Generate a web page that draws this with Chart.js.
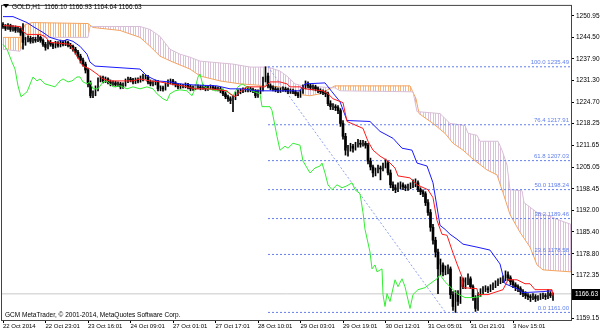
<!DOCTYPE html>
<html>
<head>
<meta charset="utf-8">
<script src="https://cdn.jsdelivr.net/npm/chart.js@4.4.1/dist/chart.umd.min.js"></script>
<style>
  html, body { margin: 0; padding: 0; background: #fff; }
</style>
</head>
<body>
<canvas id="chart" width="600" height="333"></canvas>
<script>
// GOLD H1, one entry per hourly bar (index 0 = 22 Oct 2014)
const symbol = 'GOLD,H1';
const timeLabels = ['22 Oct 2014', '22 Oct 23:01', '23 Oct 16:01', '24 Oct 09:01', '27 Oct 01:01', '27 Oct 17:01',
  '28 Oct 10:01', '29 Oct 03:01', '29 Oct 19:01', '30 Oct 12:01', '31 Oct 05:01', '31 Oct 21:01', '3 Nov 15:01'];
const labelStep = 17;
const priceTicks = [1250.95, 1244.50, 1237.90, 1231.30, 1224.70, 1218.25, 1211.65, 1205.05, 1198.45,
  1192.00, 1185.40, 1178.80, 1172.35, 1159.15];

const opens = [
  1248.3,1247.7,1247.1,1248.0,1246.8,1247.4,1246.5,1247.1,1245.9,1242.9,
  1243.5,1244.1,1243.2,1243.8,1243.5,1244.4,1243.5,1242.3,1241.4,1242.9,
  1242.3,1241.7,1242.6,1242.0,1242.9,1242.3,1242.9,1242.0,1241.7,1240.8,
  1239.9,1238.7,1237.5,1236.3,1234.5,1230.3,1226.7,1227.3,1228.8,1231.5,
  1232.1,1231.2,1231.8,1230.9,1230.3,1230.6,1230.0,1230.3,1229.4,1230.0,
  1231.2,1231.8,1231.5,1230.9,1231.5,1231.2,1231.8,1232.4,1232.4,1230.9,
  1230.3,1230.6,1230.9,1228.8,1229.1,1228.8,1230.0,1230.9,1231.2,1230.6,
  1230.0,1229.4,1229.7,1229.7,1230.0,1229.4,1228.8,1229.1,1229.4,1229.4,
  1229.1,1229.4,1228.8,1229.1,1229.4,1229.1,1228.8,1228.8,1228.2,1227.3,
  1226.4,1225.8,1225.2,1226.1,1227.3,1227.9,1228.2,1228.5,1228.5,1228.8,
  1228.5,1228.2,1226.7,1227.9,1228.8,1231.5,1232.7,1229.7,1229.1,1228.8,
  1228.5,1228.2,1228.5,1228.8,1228.5,1227.9,1228.2,1227.9,1227.3,1226.7,
  1227.9,1229.4,1230.3,1229.7,1229.1,1229.4,1228.8,1228.2,1227.9,1227.6,
  1227.3,1224.3,1223.4,1223.4,1223.1,1222.2,1218.3,1214.4,1210.2,1210.8,
  1211.4,1210.8,1211.7,1212.3,1212.0,1212.3,1211.7,1206.9,1205.1,1203.3,
  1203.9,1204.8,1204.5,1205.4,1206.3,1203.3,1199.7,1198.8,1198.2,1199.1,
  1199.7,1199.1,1198.8,1199.1,1199.4,1200.0,1200.3,1198.2,1197.6,1197.0,
  1194.3,1191.3,1186.8,1182.9,1179.3,1174.2,1175.4,1173.3,1173.9,1174.2,
  1166.4,1162.8,1166.7,1164.3,1170.9,1168.8,1170.0,1171.2,1168.8,1165.5,
  1162.2,1166.4,1167.3,1167.9,1168.2,1167.9,1168.5,1169.1,1169.7,1170.3,
  1170.6,1171.2,1172.4,1171.5,1170.3,1169.4,1168.8,1168.2,1167.3,1166.7,
  1166.1,1165.8,1165.5,1165.8,1165.2,1165.5,1165.8,1166.1,1165.8,1166.7,
  1166.10];
const highs = [
  1248.9,1248.3,1248.6,1248.4,1248.0,1247.9,1247.7,1247.6,1248.6,1244.4,
  1244.9,1244.7,1244.4,1244.4,1245.0,1244.8,1244.0,1242.9,1243.5,1243.5,
  1242.8,1243.2,1243.1,1243.6,1243.4,1243.5,1243.3,1242.6,1242.1,1241.4,
  1240.5,1239.3,1238.1,1236.9,1235.1,1231.2,1228.2,1229.7,1232.1,1232.7,
  1232.7,1232.4,1232.1,1231.5,1231.2,1231.1,1230.9,1230.8,1230.6,1231.8,
  1232.4,1232.3,1232.0,1232.1,1232.1,1232.7,1233.3,1233.0,1232.9,1231.5,
  1231.2,1231.5,1231.4,1229.7,1229.6,1230.6,1231.5,1231.8,1231.7,1231.0,
  1230.5,1230.3,1230.2,1230.6,1230.5,1229.9,1229.7,1230.0,1230.0,1229.9,
  1230.0,1229.8,1229.7,1230.0,1229.9,1229.6,1229.4,1229.3,1228.7,1227.9,
  1226.9,1226.4,1226.7,1227.9,1228.5,1228.8,1229.1,1229.1,1229.4,1229.3,
  1229.0,1228.6,1228.5,1229.4,1232.4,1235.49,1233.6,1230.3,1229.7,1229.4,
  1229.1,1229.1,1229.4,1229.3,1229.0,1228.8,1228.7,1228.4,1227.8,1228.5,
  1230.0,1231.2,1230.9,1230.2,1230.0,1229.9,1229.3,1228.8,1228.5,1228.2,
  1227.8,1225.2,1224.3,1224.0,1223.7,1222.8,1219.2,1215.3,1211.7,1212.3,
  1212.0,1212.6,1213.5,1213.2,1213.2,1212.9,1212.3,1207.8,1205.7,1204.8,
  1205.7,1205.4,1206.3,1207.5,1206.9,1204.2,1200.6,1199.7,1200.3,1200.6,
  1200.3,1199.7,1199.9,1200.3,1201.2,1201.5,1200.9,1198.8,1198.2,1197.6,
  1195.2,1192.2,1187.7,1183.8,1180.2,1177.2,1176.0,1175.1,1175.4,1174.8,
  1167.3,1167.6,1167.6,1171.8,1171.5,1171.5,1172.7,1171.8,1169.4,1166.1,
  1167.0,1168.2,1168.8,1169.1,1168.8,1169.4,1170.0,1170.6,1171.2,1171.5,
  1172.1,1173.6,1173.3,1172.1,1170.9,1170.0,1169.4,1168.8,1167.9,1167.3,
  1166.7,1166.4,1166.7,1166.4,1166.1,1166.7,1166.9,1166.7,1167.9,1167.3,
  1166.93];
const lows = [
  1247.1,1246.5,1246.8,1246.2,1246.3,1245.9,1246.0,1245.0,1240.8,1242.0,
  1243.0,1242.6,1242.7,1242.9,1243.1,1242.9,1241.7,1240.5,1240.9,1241.7,
  1241.0,1241.2,1241.4,1241.5,1241.8,1241.9,1241.5,1241.0,1240.2,1239.3,
  1238.1,1236.6,1235.7,1233.6,1229.4,1226.1,1226.1,1226.7,1228.2,1230.9,
  1230.6,1230.7,1230.3,1229.7,1229.8,1229.4,1229.5,1228.8,1228.9,1229.6,
  1230.7,1230.9,1230.3,1230.4,1230.6,1230.8,1231.2,1231.8,1230.3,1229.7,
  1229.7,1230.0,1228.2,1228.2,1228.1,1228.4,1229.5,1230.3,1230.0,1229.4,
  1228.8,1228.9,1229.1,1229.1,1228.8,1228.2,1228.3,1228.6,1228.8,1228.5,
  1228.6,1228.2,1228.3,1228.6,1228.5,1228.2,1228.2,1227.6,1226.7,1225.8,
  1225.0,1224.3,1221.9,1225.5,1226.7,1227.3,1227.6,1227.9,1227.9,1227.9,
  1227.6,1226.1,1226.2,1227.3,1228.2,1230.9,1229.1,1228.5,1228.2,1227.9,
  1227.6,1227.7,1228.0,1227.9,1227.3,1227.4,1227.3,1226.7,1226.1,1226.2,
  1227.4,1228.8,1229.1,1228.5,1228.5,1228.2,1227.6,1227.3,1227.0,1226.4,
  1223.7,1222.5,1222.5,1222.2,1221.3,1217.4,1213.5,1208.7,1208.4,1209.9,
  1209.6,1210.2,1211.1,1211.1,1211.4,1210.8,1206.0,1204.2,1202.1,1202.4,
  1203.3,1201.2,1203.9,1204.8,1202.7,1198.8,1197.9,1197.3,1197.6,1198.5,
  1198.2,1197.9,1198.0,1198.5,1198.8,1199.1,1197.6,1196.7,1196.1,1193.4,
  1190.4,1185.6,1181.7,1177.8,1166.7,1172.4,1172.1,1172.4,1172.7,1165.2,
  1161.6,1161.0,1163.1,1163.7,1168.2,1168.2,1169.4,1168.2,1164.6,1161.3,
  1161.6,1165.8,1166.7,1167.3,1167.0,1167.3,1167.9,1168.5,1169.1,1169.7,
  1170.0,1170.6,1170.6,1169.4,1168.5,1167.6,1167.3,1166.4,1165.8,1165.2,
  1164.9,1164.3,1164.9,1164.3,1164.6,1164.9,1165.2,1164.9,1165.2,1165.5,
  1164.64];
const closes = [
  1247.7,1247.1,1248.0,1246.8,1247.4,1246.5,1247.1,1245.9,1242.9,1243.5,
  1244.1,1243.2,1243.8,1243.5,1244.4,1243.5,1242.3,1241.4,1242.9,1242.3,
  1241.7,1242.6,1242.0,1242.9,1242.3,1242.9,1242.0,1241.7,1240.8,1239.9,
  1238.7,1237.5,1236.3,1234.5,1230.3,1226.7,1227.3,1228.8,1231.5,1232.1,
  1231.2,1231.8,1230.9,1230.3,1230.6,1230.0,1230.3,1229.4,1230.0,1231.2,
  1231.8,1231.5,1230.9,1231.5,1231.2,1231.8,1232.4,1232.4,1230.9,1230.3,
  1230.6,1230.9,1228.8,1229.1,1228.8,1230.0,1230.9,1231.2,1230.6,1230.0,
  1229.4,1229.7,1229.7,1230.0,1229.4,1228.8,1229.1,1229.4,1229.4,1229.1,
  1229.4,1228.8,1229.1,1229.4,1229.1,1228.8,1228.8,1228.2,1227.3,1226.4,
  1225.8,1225.2,1226.1,1227.3,1227.9,1228.2,1228.5,1228.5,1228.8,1228.5,
  1228.2,1226.7,1227.9,1228.8,1231.5,1232.7,1229.7,1229.1,1228.8,1228.5,
  1228.2,1228.5,1228.8,1228.5,1227.9,1228.2,1227.9,1227.3,1226.7,1227.9,
  1229.4,1230.3,1229.7,1229.1,1229.4,1228.8,1228.2,1227.9,1227.6,1227.3,
  1224.3,1223.4,1223.4,1223.1,1222.2,1218.3,1214.4,1210.2,1210.8,1211.4,
  1210.8,1211.7,1212.3,1212.0,1212.3,1211.7,1206.9,1205.1,1203.3,1203.9,
  1204.8,1204.5,1205.4,1206.3,1203.3,1199.7,1198.8,1198.2,1199.1,1199.7,
  1199.1,1198.8,1199.1,1199.4,1200.0,1200.3,1198.2,1197.6,1197.0,1194.3,
  1191.3,1186.8,1182.9,1179.3,1174.2,1175.4,1173.3,1173.9,1174.2,1166.4,
  1162.8,1166.7,1164.3,1170.9,1168.8,1170.0,1171.2,1168.8,1165.5,1162.2,
  1166.4,1167.3,1167.9,1168.2,1167.9,1168.5,1169.1,1169.7,1170.3,1170.6,
  1171.2,1172.4,1171.5,1170.3,1169.4,1168.8,1168.2,1167.3,1166.7,1166.1,
  1165.8,1165.5,1165.8,1165.2,1165.5,1165.8,1166.1,1165.8,1166.7,1166.1,
  1166.63];

// Ichimoku lines as [bar, price] vertices
const tenkan = [[0,1248.0],[6.8,1247.7],[8,1246.2],[9.6,1245.3],[14.8,1245.3],[16.8,1244.7],[18.8,1242.9],
  [26.8,1242.3],[29.6,1238.7],[32,1235.7],[34.8,1234.8],[37.6,1233.3],[40,1231.8],[42.8,1231.2],[52,1231.2],
  [54.8,1231.8],[58.8,1231.2],[62.8,1230.9],[66.8,1230.3],[72,1229.7],[76.8,1228.8],[82.8,1228.8],[89.6,1228.2],
  [90.8,1227.3],[92.8,1226.4],[94.8,1227.9],[97.6,1229.4],[104.8,1229.4],[106.8,1230.9],[110.8,1230.9],
  [113.6,1230.3],[114.8,1229.4],[118.8,1229.4],[120.8,1228.8],[128,1228.2],[130,1227.3],[132,1225.8],
  [136,1224.6],[137.6,1218.9],[144,1216.8],[146,1212.9],[148,1210.2],[150.8,1208.4],[154,1206.9],
  [156.8,1204.8],[158,1202.4],[162.8,1201.8],[165.6,1199.7],[170,1198.2],[172,1195.8],[173.6,1188.9],
  [175.6,1184.7],[177.6,1184.4],[179.6,1179.9],[181.6,1175.7],[183.6,1171.8],[184,1168.5],[189.6,1168.2],
  [190,1166.4],[194,1166.4],[197.6,1167.3],[200,1167.9],[202,1170.9],[205.6,1170.9],[208.8,1169.7],
  [210.8,1169.7],[212.8,1167.9],[219.6,1167.9],[220,1166.1]];
const kijun = [[0,1250.7],[4,1250.7],[6.8,1249.8],[9.6,1248.9],[12,1247.7],[16,1245.9],[18.8,1244.4],
  [24,1243.2],[25.6,1243.8],[28,1243.2],[30.8,1241.7],[33.6,1239.3],[34.8,1236.9],[36.8,1235.7],[42.8,1235.4],
  [54.8,1234.8],[57.6,1232.7],[61.6,1231.2],[66.8,1230.9],[70.8,1230.3],[76,1230.0],[85.6,1229.7],
  [90.8,1228.8],[94.8,1228.8],[101.6,1228.2],[118.8,1228.2],[120.8,1230.3],[128.8,1230.6],[131.6,1227.9],
  [134.8,1224.9],[137.6,1219.2],[146.8,1218.9],[150.8,1215.9],[156,1213.8],[159.6,1210.8],[163.6,1210.2],
  [165.6,1206.3],[169.6,1205.4],[172,1200.3],[174.8,1187.4],[176.8,1186.2],[178.8,1184.7],[181.6,1183.2],
  [184,1181.7],[189.6,1180.8],[194.8,1179.9],[198.8,1175.7],[200.8,1169.7],[205.6,1168.2],[208,1167.0],
  [216,1167.3],[219.6,1167.6]];
const chikou = [[0,1242.3],[1.6,1240.8],[3.6,1236.9],[4.8,1234.8],[6,1229.7],[7.2,1226.4],[9.6,1227.9],
  [12,1232.4],[13.6,1231.2],[14.8,1231.8],[16.8,1230.3],[20.8,1229.4],[22.8,1231.2],[24,1231.8],[26,1230.9],
  [27.6,1231.2],[29.6,1232.4],[30.8,1232.4],[32,1230.9],[33.6,1230.3],[34.8,1230.9],[36,1228.8],[38,1228.8],
  [40,1230.9],[41.6,1231.2],[44,1229.4],[46.8,1229.7],[49.6,1228.8],[52,1229.4],[54.8,1228.8],[57.6,1229.4],
  [60,1228.8],[61.6,1227.3],[64,1225.8],[65.6,1225.2],[66.8,1227.3],[68.8,1228.2],[70.8,1228.5],[73.6,1228.2],
  [75.6,1226.7],[76.8,1228.8],[78,1232.4],[78.8,1233.3],[80,1229.7],[82,1228.8],[85.6,1228.2],[87.6,1228.8],
  [89.6,1227.9],[92,1226.7],[94,1229.4],[95.6,1230.3],[97.6,1229.4],[99.6,1228.2],[102.8,1227.3],
  [103.6,1223.4],[106.8,1223.4],[107.6,1222.2],[109.6,1214.4],[110.8,1210.2],[112.8,1211.4],[114,1210.8],
  [116,1212.3],[118.8,1211.7],[120,1206.9],[122.8,1203.3],[124.8,1204.8],[126.8,1205.4],[127.6,1206.3],
  [128.8,1203.3],[130,1199.7],[131.6,1198.2],[133.6,1199.7],[135.6,1198.8],[137.6,1199.4],[139.6,1200.3],
  [140.8,1198.2],[142.8,1197.0],[144,1191.3],[144.8,1186.2],[146.8,1179.3],[147.6,1174.2],[148.8,1175.4],
  [149.6,1173.3],[151.6,1174.2],[152,1166.4],[152.8,1162.8],[153.6,1166.7],[154.8,1164.3],[156.8,1170.9],
  [158,1168.8],[159.6,1171.2],[160.8,1168.8],[162.8,1162.2],[164,1166.4],[166,1167.9],[168.8,1168.5],
  [170.8,1169.7],[173.6,1171.2],[174.8,1172.4],[176.8,1170.3],[179.6,1168.2],[181.6,1166.7],[184.8,1165.5],
  [188,1165.5],[190.8,1165.8],[192,1166.7]];
const spanA = [[0,1244.4],[6.8,1244.4],[8.8,1248.3],[11.6,1248.9],[34,1248.6],[36,1247.4],[46.8,1246.5],
  [54.8,1244.4],[58.8,1241.7],[62.8,1238.7],[68,1236.9],[74.8,1234.8],[78.8,1232.7],[86.8,1231.2],
  [94.8,1230.3],[106,1229.7],[110.8,1229.4],[116,1227.3],[122.8,1226.7],[126.8,1227.3],[132.8,1229.7],
  [162.8,1229.7],[165.2,1225.8],[166.4,1221.3],[172,1218.3],[176.8,1215.3],[180,1212.3],[184,1210.2],
  [188,1207.5],[193.6,1204.2],[197.6,1202.7],[200,1197.3],[202.8,1190.7],[206.8,1185.3],[210.8,1180.8],
  [213.6,1175.4],[216,1173.9],[227.2,1173.3]];
const spanB = [[0,1240.8],[6.8,1240.2],[8.8,1243.8],[12.8,1244.4],[34,1244.4],[34.8,1247.7],[54.8,1247.7],
  [58.8,1246.8],[62.8,1244.7],[66.8,1240.8],[70.8,1239.3],[74.8,1238.4],[78.8,1237.2],[92,1236.3],
  [98.8,1235.4],[106,1235.4],[110.8,1234.2],[114,1232.4],[116.8,1230.3],[120,1229.7],[132.8,1229.1],
  [134.8,1228.2],[164,1227.9],[165.6,1221.9],[174.8,1221.3],[178.8,1218.3],[184.8,1217.7],[186,1215.3],
  [189.6,1214.7],[190.8,1212.9],[198,1212.9],[199.6,1210.2],[201.6,1205.7],[202.8,1198.2],[207.6,1197.9],
  [208.4,1194.3],[213.6,1191.3],[218,1190.4],[222.8,1188.9],[227.2,1187.7]];

// Fibonacci retracement from the 28 Oct high to the 31 Oct low
const fibLevels = [100.0, 76.4, 61.8, 50.0, 38.2, 23.6, 0.0];
const fibPrices = [1235.49, 1217.91, 1207.03, 1198.24, 1189.46, 1178.58, 1161.00];
const fibFrom = 106;
const fibTo = 177;

const xMin = -0.4, xMax = 227.2;
const fibColor = 'rgb(98,128,236)';
const last = closes.length - 1;

function xy(pairs) {
  return pairs.map(p => ({ x: p[0], y: p[1] }));
}

function hatch(color) {
  const c = document.createElement('canvas');
  c.width = 5; c.height = 4;
  const g = c.getContext('2d');
  g.fillStyle = color;
  g.fillRect(0, 0, 1, 4);
  g.fillRect(3, 0, 1, 4);
  return g.createPattern(c, 'repeat');
}

const wicks = closes.map((c, i) => ({ x: i, y: [lows[i], highs[i]] }));
const bodies = closes.map((c, i) => ({ x: i, y: [Math.min(opens[i], c), Math.max(opens[i], c)] }));
const bodyColors = closes.map((c, i) => c < opens[i] ? '#000000' : '#ffffff');

function lineSet(data, color, order, extra) {
  return Object.assign({
    type: 'line', data: data, borderColor: color, borderWidth: 1,
    pointRadius: 0, tension: 0, fill: false, order: order
  }, extra || {});
}

const datasets = [
  lineSet(xy(spanA), '#F4A460', 20, {
    fill: { target: 1, above: hatch('rgba(244,164,96,0.8)'), below: hatch('rgba(216,191,216,0.95)') }
  }),
  lineSet(xy(spanB), '#D8BFD8', 19),
  lineSet([{ x: xMin, y: closes[last] }, { x: xMax, y: closes[last] }], '#c8c8c8', 18)
];
fibPrices.forEach(p => {
  datasets.push(lineSet([{ x: fibFrom, y: p }, { x: xMax, y: p }], fibColor, 17, { borderDash: [2, 2] }));
});
datasets.push(lineSet([{ x: fibFrom, y: fibPrices[0] }, { x: fibTo, y: fibPrices[fibPrices.length - 1] }],
  'rgb(140,160,240)', 17, { borderDash: [2, 2] }));
datasets.push({
  type: 'bar', data: bodies, backgroundColor: bodyColors, barThickness: 2,
  grouped: false, minBarLength: 1, order: 12
});
datasets.push({
  type: 'bar', data: wicks, backgroundColor: '#000000', barThickness: 1,
  grouped: false, order: 11
});
datasets.push(lineSet(xy(chikou), '#33ee33', 4));
datasets.push(lineSet(xy(kijun), '#1a1aff', 3));
datasets.push(lineSet(xy(tenkan), '#ff1a1a', 2));

const overlay = {
  id: 'overlay',
  afterDraw(chart) {
    const { ctx, chartArea: a } = chart;
    const y = chart.scales.y;
    ctx.save();

    // fibo level captions
    ctx.font = '6px "Liberation Sans", Arial, sans-serif';
    ctx.fillStyle = fibColor;
    ctx.textAlign = 'right';
    ctx.textBaseline = 'bottom';
    fibLevels.forEach((lv, k) => {
      ctx.fillText(lv.toFixed(1) + ' ' + fibPrices[k].toFixed(2), a.right - 2, y.getPixelForValue(fibPrices[k]) - 1);
    });

    // frame
    ctx.strokeStyle = '#444';
    ctx.lineWidth = 1;
    ctx.strokeRect(a.left - 0.5, a.top - 0.5, a.right - a.left + 1, a.bottom - a.top + 1);

    // header
    ctx.fillStyle = '#000';
    ctx.beginPath();
    ctx.moveTo(3, 4); ctx.lineTo(9, 4); ctx.lineTo(6, 8); ctx.closePath();
    ctx.fill();
    ctx.font = '6.5px "Liberation Sans", Arial, sans-serif';
    ctx.textAlign = 'left';
    ctx.textBaseline = 'middle';
    ctx.fillText(symbol + '  ' + opens[last].toFixed(2) + ' ' + highs[last].toFixed(2) + ' ' +
      lows[last].toFixed(2) + ' ' + closes[last].toFixed(2), 12, 7);
    ctx.fillText('GCM MetaTrader, \u00a9 2001-2014, MetaQuotes Software Corp.', 5, 315);

    // current price box
    const py = Math.round(y.getPixelForValue(closes[last]));
    ctx.fillStyle = '#000';
    ctx.fillRect(a.right + 1, py - 5, 29, 11);
    ctx.fillStyle = '#fff';
    ctx.fillText(closes[last].toFixed(2), a.right + 4, py + 0.5);
    ctx.restore();
  }
};

Chart.defaults.font.family = '"Liberation Sans", Arial, sans-serif';
Chart.defaults.color = '#000';

const ctx = document.getElementById('chart').getContext('2d');
const chart = new Chart(ctx, {
  type: 'bar',
  data: { datasets: datasets },
  options: {
    responsive: false,
    animation: false,
    devicePixelRatio: 1,
    layout: { padding: { left: 2, top: 1, right: 0, bottom: 0 } },
    plugins: { legend: { display: false }, tooltip: { enabled: false } },
    scales: {
      x: {
        type: 'linear', min: xMin, max: xMax, offset: false,
        grid: { drawOnChartArea: false, offset: false, tickLength: 3, color: '#000' },
        border: { display: false },
        afterBuildTicks(scale) {
          scale.ticks = timeLabels.map((t, k) => ({ value: k * labelStep }));
        },
        afterFit(scale) { scale.height = 13; },
        ticks: {
          autoSkip: false, maxRotation: 0, align: 'start', padding: 0,
          font: { size: 6 },
          callback: (v, i) => timeLabels[i]
        }
      },
      y: {
        type: 'linear', position: 'right', min: 1158.7, max: 1253.95,
        grid: { drawOnChartArea: false, tickLength: 3, color: '#000' },
        border: { display: false },
        afterBuildTicks(scale) {
          scale.ticks = priceTicks.map(v => ({ value: v }));
        },
        afterFit(scale) { scale.width = 29; },
        ticks: {
          autoSkip: false, padding: 2,
          font: { size: 6.5 },
          callback: v => v.toFixed(2)
        }
      }
    }
  },
  plugins: [overlay]
});
</script>
</body>
</html>
